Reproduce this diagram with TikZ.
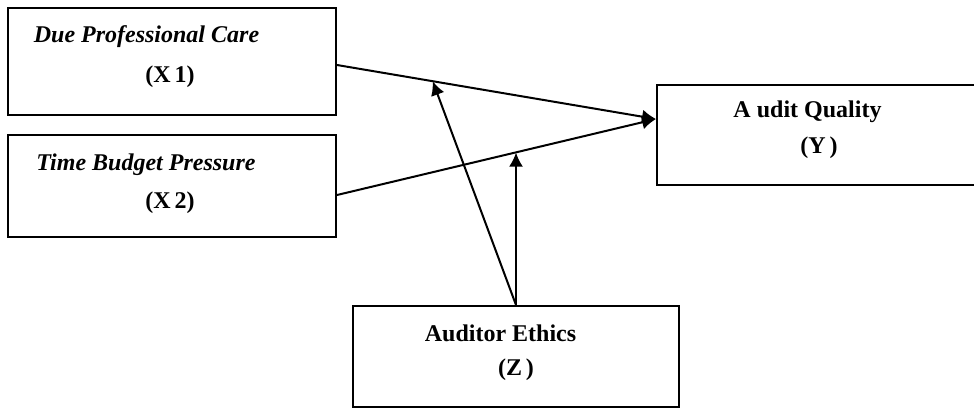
\documentclass[tikz,border=0pt]{standalone}
\usepackage{fontspec}
\setmainfont{Liberation Serif}
\usetikzlibrary{positioning,arrows.meta}

\begin{document}
\begin{tikzpicture}[x=1pt,y=1pt,on grid,
-{Latex[length=14pt,width=14pt]}, line width=2pt,
box/.style ={rectangle, draw, -, line width=2pt},
txt/.style ={font=\fontsize{24}{28}\selectfont\bfseries, inner sep=0pt}]
\useasboundingbox (0,0) rectangle (974,-408);
% boxes
\node[box,minimum width=328pt,minimum height=107pt] (X1) at (172,-61.5) {};
\node[box,minimum width=328pt,minimum height=102pt] (X2) [below=124.5pt of X1] {};
\node[box,minimum width=319pt,minimum height=100pt] (Y) [below right=73.5pt and 644.5pt of X1] {};
\node[box,minimum width=326pt,minimum height=101pt] (Z) [below right=295pt and 344pt of X1] {};
% texts
\node[txt] (t1) at ([xshift=-25.5pt,yshift=24.5pt]X1.center) {\itshape Due Professional Care};
\node[txt] (t1b) at ([xshift=-2pt,yshift=-15.5pt]X1.center) {(X\,1)};
\node[txt] (t2) at ([xshift=-26pt,yshift=21pt]X2.center) {\itshape Time Budget Pressure};
\node[txt] (t2b) at ([xshift=-2pt,yshift=-17pt]X2.center) {(X\,2)};
\node[txt] (ty) at ([xshift=-9pt,yshift=23pt]Y.center) {A udit Quality};
\node[txt] (tyb) at ([xshift=2.5pt,yshift=-13pt]Y.center) {(Y\,)};
\node[txt] (tz) at ([xshift=-15.5pt,yshift=23.5pt]Z.center) {Auditor Ethics};
\node[txt] (tzb) at ([yshift=-13.5pt]Z.center) {(Z\,)};
% arrows
\coordinate (y-in) at ([yshift=16pt]Y.west);
\coordinate (x1-out) at ([yshift=-3.5pt]X1.east);
\coordinate (x2-out) at ([yshift=-9pt]X2.east);
\draw (x1-out) -- coordinate[pos=0.3] (m1) (y-in);
\draw (x2-out) -- coordinate[pos=0.558] (m2) (y-in);
\draw (Z.north) -- (m1);
\draw (Z.north) -- (Z.north |- m2);
\end{tikzpicture}
\end{document}
